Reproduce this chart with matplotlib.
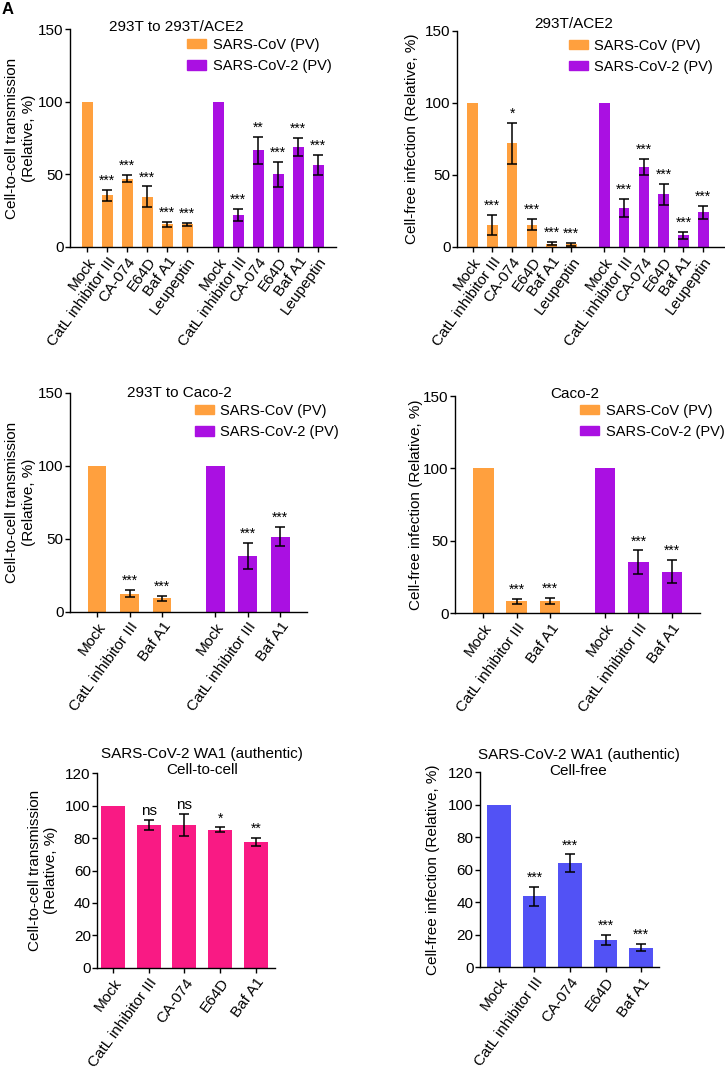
import numpy as np
import matplotlib
matplotlib.use("Agg")
import matplotlib.pyplot as plt
from matplotlib.patches import Patch

plt.rcParams['font.family'] = ['Liberation Sans', 'DejaVu Sans']
plt.rcParams['font.size'] = 11

# colours
ORANGE = '#FFA03E'
PURPLE = '#AA10E2'
PINK = '#F91A84'
BLUE = '#5252F5'

# ---- data ----
drugs6 = ['Mock', 'CatL inhibitor III', 'CA-074', 'E64D', 'Baf A1', 'Leupeptin']
drugs3 = ['Mock', 'CatL inhibitor III', 'Baf A1']
drugs5 = ['Mock', 'CatL inhibitor III', 'CA-074', 'E64D', 'Baf A1']

# panel A: 293T to 293T/ACE2, cell-to-cell
a_sars1 = [100, 35.5, 47, 34.5, 15.5, 15.5]
a_sars1_err = [0, 4, 2.6, 7.2, 2, 1.3]
a_sars1_sig = ['', '***', '***', '***', '***', '***']
a_sars2 = [100, 22, 66.5, 50, 69, 56.5]
a_sars2_err = [0, 4.4, 9.5, 8.4, 6.1, 6.8]
a_sars2_sig = ['', '***', '**', '***', '***', '***']

# panel B: 293T/ACE2, cell-free
b_sars1 = [100, 15.5, 72, 15.5, 2.3, 1.8]
b_sars1_err = [0, 7, 14.3, 3.7, 1, 0.8]
b_sars1_sig = ['', '***', '*', '***', '***', '***']
b_sars2 = [100, 27, 55.5, 36.5, 8, 24]
b_sars2_err = [0, 6.1, 5.5, 7.4, 2.5, 4.3]
b_sars2_sig = ['', '***', '***', '***', '***', '***']

# panel C: 293T to Caco-2, cell-to-cell
c_sars1 = [100, 12.5, 9.5]
c_sars1_err = [0, 2.5, 1.7]
c_sars1_sig = ['', '***', '***']
c_sars2 = [100, 38.5, 51.5]
c_sars2_err = [0, 9, 6.5]
c_sars2_sig = ['', '***', '***']

# panel D: Caco-2, cell-free
d_sars1 = [100, 8, 8.5]
d_sars1_err = [0, 2, 2]
d_sars1_sig = ['', '***', '***']
d_sars2 = [100, 35, 28.5]
d_sars2_err = [0, 8.3, 8]
d_sars2_sig = ['', '***', '***']

# panel E/F: authentic WA1
e_vals = [100, 88, 88, 85, 77.5]
e_err = [0, 3.3, 6.5, 1.5, 2.7]
e_sig = ['', 'ns', 'ns', '*', '**']
f_vals = [100, 43.5, 64, 16.5, 12]
f_err = [0, 6, 5.3, 3.2, 2]
f_sig = ['', '***', '***', '***', '***']


def style_axis(ax, ymax, ystep):
    for s in ['top', 'right']:
        ax.spines[s].set_visible(False)
    for s in ['left', 'bottom']:
        ax.spines[s].set_linewidth(1.0)
    ax.set_ylim(0, ymax)
    ax.set_yticks(np.arange(0, ymax + 1, ystep))
    ax.tick_params(axis='both', direction='out', length=3.5, width=1.0, labelsize=11)
    ax.tick_params(axis='y', pad=1)
    ax.tick_params(axis='x', pad=2)


def draw_bars(ax, pos, vals, errs, sigs, color, width):
    ax.bar(pos, vals, width=width, color=color, edgecolor='none', zorder=2)
    ax.errorbar(pos[1:], vals[1:], yerr=errs[1:], fmt='none', ecolor='black',
                elinewidth=1.1, capsize=3.6, capthick=1.1, zorder=3)
    for x, v, e, s in zip(pos, vals, errs, sigs):
        if s:
            ax.annotate(s, (x, v + e), xytext=(0, 1.5), textcoords='offset points',
                        ha='center', va='bottom', fontsize=10 if s != 'ns' else 11)


def grouped_panel(ax, labels, s1, s1e, s1s, s2, s2e, s2s, gap, width, xlim):
    n = len(labels)
    p1 = np.arange(n, dtype=float)
    p2 = p1 + n - 1 + gap
    draw_bars(ax, p1, s1, s1e, s1s, ORANGE, width)
    draw_bars(ax, p2, s2, s2e, s2s, PURPLE, width)
    style_axis(ax, 150, 50)
    ax.set_xlim(*xlim)
    ax.set_xticks(np.concatenate([p1, p2]))
    ax.set_xticklabels(labels + labels, rotation=54, ha='right', rotation_mode='anchor')


def legend(ax, anchor):
    handles = [Patch(color=ORANGE, label='SARS-CoV (PV)'),
               Patch(color=PURPLE, label='SARS-CoV-2 (PV)')]
    ax.legend(handles=handles, loc='upper left', bbox_to_anchor=anchor, frameon=False,
              handlelength=1.3, handleheight=0.6, handletextpad=0.45,
              borderpad=0, borderaxespad=0, labelspacing=0.5, fontsize=10.5)


fig = plt.figure(figsize=(7.25, 10.71), dpi=100)

# panel A
ax1 = fig.add_axes([0.0966, 0.7694, 0.367, 0.2035])
grouped_panel(ax1, drugs6, a_sars1, a_sars1_err, a_sars1_sig,
              a_sars2, a_sars2_err, a_sars2_sig, 1.55, 0.55, (-0.85, 12.45))
ax1.set_ylabel('Cell-to-cell transmission\n(Relative, %)', labelpad=2)
ax1.text(0.40, 1.01, '293T to 293T/ACE2', transform=ax1.transAxes, ha='center', va='center')
legend(ax1, (0.44, 0.96))

# panel B
ax2 = fig.add_axes([0.630, 0.7694, 0.368, 0.2017])
grouped_panel(ax2, drugs6, b_sars1, b_sars1_err, b_sars1_sig,
              b_sars2, b_sars2_err, b_sars2_sig, 1.67, 0.54, (-0.8, 12.7))
ax2.set_ylabel('Cell-free infection (Relative, %)', labelpad=4)
ax2.text(0.44, 1.03, '293T/ACE2', transform=ax2.transAxes, ha='center', va='center')
legend(ax2, (0.42, 0.965))

# panel C
ax3 = fig.add_axes([0.0966, 0.4286, 0.327, 0.2045])
grouped_panel(ax3, drugs3, c_sars1, c_sars1_err, c_sars1_sig,
              c_sars2, c_sars2_err, c_sars2_sig, 1.63, 0.58, (-0.83, 6.46))
ax3.set_ylabel('Cell-to-cell transmission\n(Relative, %)', labelpad=2)
ax3.text(0.46, 1.0, '293T to Caco-2', transform=ax3.transAxes, ha='center', va='center')
legend(ax3, (0.527, 0.95))

# panel D
ax4 = fig.add_axes([0.6276, 0.4276, 0.338, 0.2026])
grouped_panel(ax4, drugs3, d_sars1, d_sars1_err, d_sars1_sig,
              d_sars2, d_sars2_err, d_sars2_sig, 1.64, 0.62, (-0.84, 6.48))
ax4.set_ylabel('Cell-free infection (Relative, %)', labelpad=0)
ax4.text(0.49, 1.01, 'Caco-2', transform=ax4.transAxes, ha='center', va='center')
legend(ax4, (0.51, 0.965))

# panel E
ax5 = fig.add_axes([0.1338, 0.0962, 0.2455, 0.182])
p5 = np.arange(len(drugs5))
draw_bars(ax5, p5, e_vals, e_err, e_sig, PINK, 0.67)
style_axis(ax5, 120, 20)
ax5.set_xlim(-0.45, 4.54)
ax5.set_xticks(p5)
ax5.set_xticklabels(drugs5, rotation=54, ha='right', rotation_mode='anchor')
ax5.set_ylabel('Cell-to-cell transmission\n(Relative, %)', labelpad=5)
ax5.text(0.59, 1.056, 'SARS-CoV-2 WA1 (authentic)\nCell-to-cell', transform=ax5.transAxes,
         ha='center', va='center', linespacing=1.2)

# panel F
ax6 = fig.add_axes([0.662, 0.0971, 0.247, 0.182])
p6 = np.arange(len(drugs5))
draw_bars(ax6, p6, f_vals, f_err, f_sig, BLUE, 0.66)
style_axis(ax6, 120, 20)
ax6.set_xlim(-0.53, 4.5)
ax6.set_xticks(p6)
ax6.set_xticklabels(drugs5, rotation=54, ha='right', rotation_mode='anchor')
ax6.set_ylabel('Cell-free infection (Relative, %)', labelpad=6)
ax6.text(0.55, 1.046, 'SARS-CoV-2 WA1 (authentic)\nCell-free', transform=ax6.transAxes,
         ha='center', va='center', linespacing=1.2)

fig.text(0.002, 0.998, 'A', fontsize=12, fontweight='bold', ha='left', va='top')

fig.savefig('out.png', dpi=100)
